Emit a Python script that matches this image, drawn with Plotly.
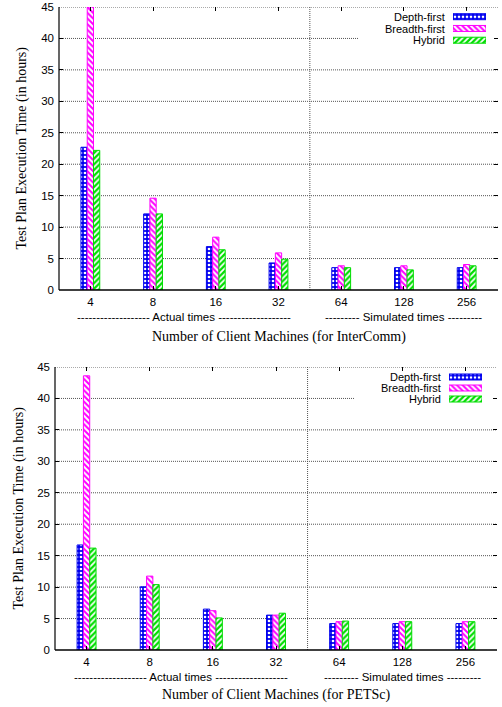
import plotly.graph_objects as go

# Number of client machines (x categories)
categories = ["4", "8", "16", "32", "64", "128", "256"]
series_names = ["Depth-first", "Breadth-first", "Hybrid"]

# Test plan execution time in hours, InterComm
intercomm_depth = [22.7, 12.1, 6.9, 4.3, 3.55, 3.55, 3.55]
intercomm_breadth = [45.0, 14.6, 8.4, 5.9, 3.85, 3.85, 4.05]
intercomm_hybrid = [22.2, 12.1, 6.4, 4.9, 3.55, 3.2, 3.85]

# Test plan execution time in hours, PETSc
petsc_depth = [16.7, 10.05, 6.5, 5.55, 4.2, 4.2, 4.2]
petsc_breadth = [43.6, 11.75, 6.25, 5.55, 4.5, 4.5, 4.5]
petsc_hybrid = [16.2, 10.4, 5.1, 5.85, 4.6, 4.5, 4.5]

y_ticks = [0, 5, 10, 15, 20, 25, 30, 35, 40, 45]
Y_MAX = 45

W, H = 502, 707
SANS = "Liberation Sans, Arial, sans-serif"
SERIF = "Liberation Serif, Times New Roman, serif"
GRID = "#555555"

styles = [
    dict(shape=".", bg="#0000ee", fg="#ffffff", line="#0000ee", solidity=0.35),
    dict(shape="\\", bg="#ffffff", fg="#ff00ff", line="#ff00ff", solidity=0.5),
    dict(shape="/", bg="#ffffff", fg="#00dd00", line="#00dd00", solidity=0.55),
]


def px_x(p):
    return p / W


def px_y(p):
    return 1 - p / H


def bar_marker(st):
    return dict(
        color=st["bg"],
        line=dict(color=st["line"], width=1),
        pattern=dict(shape=st["shape"], bgcolor=st["bg"], fgcolor=st["fg"],
                     size=4, solidity=st["solidity"], fillmode="replace"),
    )


fig = go.Figure()

panels = [
    dict(vals=[intercomm_depth, intercomm_breadth, intercomm_hybrid],
         xa="x", ya="y", xdom=[59, 498], ydom=[7, 290],
         leg_x=[453, 486], leg_rows=[16.7, 28.5, 40.2], leg_text_x=447,
         box=[358, 9, 496, 47],
         title="Number of Client Machines (for InterComm)", title_y=337,
         note_y=317, ytitle_x=21),
    dict(vals=[petsc_depth, petsc_breadth, petsc_hybrid],
         xa="x2", ya="y2", xdom=[55, 497], ydom=[367, 650],
         leg_x=[449, 482], leg_rows=[377, 388, 399], leg_text_x=443,
         box=[354, 369, 494, 407],
         title="Number of Client Machines (for PETSc)", title_y=695,
         note_y=677, ytitle_x=18),
]

layout_axes = {}
shapes = []
annotations = []

for k, p in enumerate(panels):
    n = k + 1
    xa, ya = p["xa"], p["ya"]
    xkey = "xaxis" if n == 1 else f"xaxis{n}"
    ykey = "yaxis" if n == 1 else f"yaxis{n}"

    for vals, name, st in zip(p["vals"], series_names, styles):
        fig.add_trace(go.Bar(
            x=categories, y=vals, name=name, xaxis=xa, yaxis=ya,
            showlegend=False, marker=bar_marker(st),
        ))

    x0, x1 = p["xdom"]
    t0, t1 = p["ydom"]
    layout_axes[xkey] = dict(
        domain=[px_x(x0), px_x(x1)], anchor=ya, type="category",
        range=[-0.5, len(categories) - 0.5], automargin=False,
        showline=False, mirror="ticks", ticks="inside", ticklen=4,
        tickcolor="black", showgrid=False, zeroline=False,
        tickfont=dict(family=SANS, size=11.5, color="black"),
        ticklabelstandoff=3,
    )
    layout_axes[ykey] = dict(
        domain=[px_y(t1), px_y(t0)], anchor=xa, range=[0, Y_MAX],
        automargin=False,
        tickvals=y_ticks, showline=False, mirror="ticks", ticks="inside",
        ticklen=4, tickcolor="black", showgrid=False, zeroline=False,
        tickfont=dict(family=SANS, size=11.5, color="black"),
        ticklabelstandoff=4,
    )

    xd, yd = f"{xa} domain", f"{ya} domain"

    # dotted horizontal grid; lines crossing the key stop at its left edge
    bx0, by0, bx1, by1 = p["box"]
    key_left = (bx0 - x0) / (x1 - x0)
    key_lo = (t1 - by1) / (t1 - t0)
    key_hi = (t1 - by0) / (t1 - t0)
    for v in y_ticks[1:]:
        frac = v / Y_MAX
        end = key_left if key_lo < frac < key_hi else 1
        shapes.append(dict(type="line", xref=xd, yref=ya, x0=0, x1=end,
                           y0=v, y1=v,
                           line=dict(color=GRID, width=1, dash="1px,1px"),
                           layer="below"))
    # divider between actual and simulated runs
    shapes.append(dict(type="line", xref=xd, yref=yd,
                       x0=4 / len(categories), x1=4 / len(categories),
                       y0=0, y1=1,
                       line=dict(color=GRID, width=1, dash="1px,1px"),
                       layer="below"))
    # solid left and bottom axis lines
    shapes.append(dict(type="line", xref=xd, yref=yd, x0=0, x1=1, y0=0, y1=0,
                       line=dict(color="black", width=1.5), layer="above"))
    shapes.append(dict(type="line", xref=xd, yref=yd, x0=0, x1=0, y0=0, y1=1,
                       line=dict(color="black", width=1.2), layer="above"))

    # key swatches drawn as horizontal bars on a small helper subplot
    ln = n + 2
    lxa, lya = f"x{ln}", f"y{ln}"
    rows = p["leg_rows"]
    step = (rows[-1] - rows[0]) / 2
    top_px = rows[0] - step / 2
    bot_px = rows[-1] + step / 2
    for i, st in enumerate(styles):
        fig.add_trace(go.Bar(
            y=[i], x=[1], base=[0], orientation="h",
            width=6 / step, offset=-3 / step, xaxis=lxa, yaxis=lya,
            showlegend=False, hoverinfo="skip", marker=bar_marker(st),
        ))
    layout_axes[f"xaxis{ln}"] = dict(
        domain=[px_x(p["leg_x"][0]), px_x(p["leg_x"][1])], anchor=lya,
        range=[0, 1], visible=False, fixedrange=True, automargin=False)
    layout_axes[f"yaxis{ln}"] = dict(
        domain=[px_y(bot_px), px_y(top_px)], anchor=lxa,
        range=[2.5, -0.5], visible=False, fixedrange=True, automargin=False)

    for name, r in zip(series_names, rows):
        annotations.append(dict(
            text=name, xref="paper", yref="paper", x=px_x(p["leg_text_x"]),
            y=px_y(r), xanchor="right", yanchor="middle", showarrow=False,
            font=dict(family=SANS, size=11, color="black")))

    # range notes under the category labels
    annotations.append(dict(
        text="------------------- Actual times -------------------",
        xref=xa, yref="paper", x=1.5, y=px_y(p["note_y"]),
        xanchor="center", yanchor="middle", showarrow=False,
        font=dict(family=SANS, size=11.5, color="black")))
    annotations.append(dict(
        text="--------- Simulated times ---------",
        xref=xa, yref="paper", x=5, y=px_y(p["note_y"]),
        xanchor="center", yanchor="middle", showarrow=False,
        font=dict(family=SANS, size=11.5, color="black")))

    # axis titles
    annotations.append(dict(
        text=p["title"], xref="paper", yref="paper",
        x=px_x((x0 + x1) / 2), y=px_y(p["title_y"]),
        xanchor="center", yanchor="middle", showarrow=False,
        font=dict(family=SERIF, size=14, color="black")))
    annotations.append(dict(
        text="Test Plan Execution Time (in hours)", xref="paper", yref="paper",
        x=px_x(p["ytitle_x"]), y=px_y((t0 + t1) / 2), textangle=-90,
        xanchor="center", yanchor="middle", showarrow=False,
        font=dict(family=SERIF, size=14, color="black")))

fig.update_layout(
    width=W, height=H, margin=dict(l=0, r=0, t=0, b=0, autoexpand=False),
    paper_bgcolor="white", plot_bgcolor="white",
    barmode="group", bargap=0.7, bargroupgap=0,
    showlegend=False, shapes=shapes, annotations=annotations,
    **layout_axes,
)

fig.write_html("out.html")
